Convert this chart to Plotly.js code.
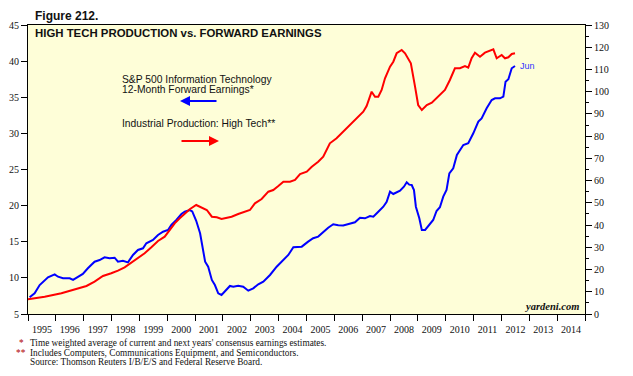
<!DOCTYPE html>
<html><head><meta charset="utf-8">
<script src="https://cdn.plot.ly/plotly-3.0.1.min.js"></script>
<style>html,body{margin:0;padding:0;background:#fff}#chart{width:633px;height:376px}</style>
</head><body><div id="chart"></div>
<script>
// S&P 500 Information Technology 12-Month Forward Earnings (left axis), decimal years
const earnYears = [1995.06,1995.24,1995.42,1995.54,1995.72,1995.96,1996.08,1996.26,1996.50,1996.62,1996.80,1996.97,1997.15,1997.39,1997.57,1997.75,1997.93,1998.11,1998.23,1998.41,1998.59,1998.77,1998.95,1999.13,1999.25,1999.49,1999.67,1999.85,2000.03,2000.15,2000.33,2000.51,2000.63,2000.81,2000.90,2001.04,2001.18,2001.30,2001.36,2001.47,2001.60,2001.71,2001.83,2001.95,2002.07,2002.25,2002.37,2002.55,2002.73,2002.91,2003.09,2003.27,2003.45,2003.69,2003.93,2004.17,2004.35,2004.53,2004.71,2004.83,2005.06,2005.24,2005.42,2005.60,2005.78,2005.96,2006.14,2006.32,2006.50,2006.74,2006.92,2007.10,2007.28,2007.40,2007.58,2007.76,2007.88,2008.00,2008.12,2008.36,2008.50,2008.60,2008.69,2008.78,2008.86,2008.93,2009.05,2009.14,2009.26,2009.38,2009.55,2009.67,2009.79,2009.91,2010.03,2010.13,2010.27,2010.40,2010.63,2010.81,2010.99,2011.17,2011.29,2011.47,2011.65,2011.77,2011.95,2012.07,2012.15,2012.25,2012.37,2012.49];
const earnValues = [7.31,7.87,9.01,9.47,10.08,10.49,10.16,9.94,9.94,9.71,10.16,10.54,11.33,12.24,12.47,12.85,12.71,12.79,12.24,12.38,12.15,13.17,13.86,14.09,14.79,15.24,15.93,16.39,16.63,17.32,18.01,18.84,19.16,19.39,19.2,17.9,16.17,13.40,12.24,11.55,9.71,9.01,7.87,7.63,8.09,8.88,8.78,8.92,8.78,8.23,8.56,9.11,9.47,10.40,11.55,12.47,13.17,14.23,14.23,14.32,15.01,15.48,15.71,16.39,16.94,17.42,17.28,17.25,17.45,17.7,18.33,18.24,18.56,18.47,19.16,19.85,20.54,21.93,21.61,22.07,22.62,23.23,22.90,22.85,22.16,19.85,18.24,16.63,16.63,17.18,18.01,19.26,19.77,21.24,22.16,24.47,25.17,27.01,28.39,28.63,30.01,31.62,32.08,33.47,34.62,34.85,34.85,35.08,37.15,37.49,39.01,39.32];

// Industrial Production: High Tech (right axis), decimal years
const prodYears = [1995.00,1995.60,1996.20,1996.55,1996.80,1997.10,1997.39,1997.69,1997.99,1998.23,1998.47,1998.71,1998.95,1999.19,1999.43,1999.67,1999.91,2000.09,2000.27,2000.45,2000.63,2000.81,2001.04,2001.24,2001.42,2001.60,2001.78,2001.95,2002.13,2002.31,2002.55,2002.79,2002.97,2003.15,2003.39,2003.63,2003.81,2003.99,2004.17,2004.41,2004.59,2004.77,2005.01,2005.19,2005.42,2005.60,2005.84,2006.08,2006.32,2006.56,2006.80,2007.04,2007.16,2007.34,2007.46,2007.58,2007.70,2007.82,2008.00,2008.12,2008.24,2008.42,2008.54,2008.66,2008.75,2008.90,2009.01,2009.14,2009.32,2009.50,2009.73,2009.97,2010.15,2010.33,2010.51,2010.69,2010.81,2010.93,2011.05,2011.23,2011.41,2011.59,2011.71,2011.83,2012.01,2012.13,2012.25,2012.37,2012.49];
const prodValues = [6.61,7.78,9.31,10.48,11.56,12.60,14.53,17.09,18.31,19.48,21.01,23.08,25.06,27.31,30.00,32.84,34.77,37.79,40.80,43.05,45.30,47.10,49.03,48.0,46.78,43.77,43.50,42.74,43.32,43.77,44.98,46.02,46.78,49.80,51.73,55.02,55.78,57.58,59.51,59.51,60.28,62.98,64.01,66.26,68.51,70.76,76.79,79.04,82.01,85.02,88.03,91.00,93.57,100.0,97.75,97.75,100.77,106.03,111.25,113.50,117.28,118.76,117.28,114.26,112.78,102.25,94.02,91.77,94.02,95.05,97.75,100.77,105.26,110.53,110.53,111.56,110.80,115.03,117.55,115.75,117.55,118.31,119.07,115.03,116.51,115.03,115.48,116.96,117.28];

const leftTicks = [5,10,15,20,25,30,35,40,45];
const rightTicks = [0,10,20,30,40,50,60,70,80,90,100,110,120,130];

function toDate(y){
  const yr = Math.floor(y), frac = y - yr;
  const ms = Date.UTC(yr,0,1) + frac*365.25*86400000;
  return new Date(ms).toISOString().slice(0,10);
}

const serif = 'Liberation Serif, Times New Roman, serif';
const sans = 'Liberation Sans, Arial, sans-serif';

const L = 28, R = 585, T = 25, B = 314;
const px = x => (x - L)/(R - L);
const py = y => (B - y)/(B - T);

const traces = [
  {x: earnYears.map(toDate), y: earnValues, type:'scatter', mode:'lines',
   line:{color:'#0000FF', width:2}, yaxis:'y', hoverinfo:'skip'},
  {x: prodYears.map(toDate), y: prodValues, type:'scatter', mode:'lines',
   line:{color:'#FF0000', width:2}, yaxis:'y2', hoverinfo:'skip'}
];

const ann = [];
function txt(text, x, y, opts){
  ann.push(Object.assign({text, xref:'paper', yref:'paper', x:px(x), y:py(y),
    xanchor:'left', yanchor:'middle', showarrow:false,
    font:{family:sans, size:10.3, color:'#111'}}, opts||{}));
}
const fn = {family:serif, size:9.3, color:'#111'};
txt('<b>Figure 212.</b>', 33, 15.5, {font:{family:sans, size:12, color:'#111'}});
txt('S&amp;P 500 Information Technology', 120, 79);
txt('12-Month Forward Earnings*', 120, 89.5);
txt('Industrial Production: High Tech**', 120, 123);
txt('<b><i>yardeni.com</i></b>', 581, 306.5, {xanchor:'right', font:{family:serif, size:10.5, color:'#111'}});
txt('*', 17, 343, {font:{family:serif, size:9.3, color:'#b00000'}});
txt('**', 14, 352.5, {font:{family:serif, size:9.3, color:'#b00000'}});
txt("Time weighted average of current and next years' consensus earnings estimates.", 28, 343, {font:fn});
txt('Includes Computers, Communications Equipment, and Semiconductors.', 28, 352.5, {font:fn});
txt('Source: Thomson Reuters I/B/E/S and Federal Reserve Board.', 28, 362, {font:fn});
// arrows
ann.push({xref:'paper', yref:'paper', x:px(180), y:py(101), ax:38, ay:0, text:'', showarrow:true,
  arrowhead:2, arrowsize:1, arrowwidth:2, arrowcolor:'#0000FF'});
ann.push({xref:'paper', yref:'paper', x:px(219), y:py(141), ax:-39, ay:0, text:'', showarrow:true,
  arrowhead:2, arrowsize:1, arrowwidth:2, arrowcolor:'#FF0000'});
// Jun label at last earnings point
ann.push({xref:'x', yref:'y', x:toDate(earnYears[earnYears.length-1]), y:earnValues[earnValues.length-1],
  text:'Jun', showarrow:false, xanchor:'left', yanchor:'middle', xshift:3,
  font:{family:sans, size:9, color:'#3333FF'}});

const layout = {
  width:633, height:376,
  margin:{l:L, r:633-R, t:T, b:376-B, pad:0},
  paper_bgcolor:'#FFFFFF', plot_bgcolor:'#FEFED8',
  showlegend:false,
  title:{text:'<b>HIGH TECH PRODUCTION vs. FORWARD EARNINGS</b>', xref:'container', yref:'container',
    x:35/633, xanchor:'left', y:1-33.5/376, yanchor:'middle',
    font:{family:sans, size:11.4, color:'#111'}},
  xaxis:{type:'date', range:['1995-01-01','2015-01-01'], tick0:'1995-01-01', dtick:'M12',
    tickformat:'%Y', ticklabelmode:'period', ticks:'outside', ticklen:6, tickcolor:'#000',
    showline:true, linecolor:'#000', linewidth:1, mirror:true, showgrid:false, zeroline:false,
    tickfont:{family:serif, size:10, color:'#111'}},
  yaxis:{range:[5,45], tickvals:leftTicks, ticks:'outside', ticklen:6, tickcolor:'#000',
    showline:true, linecolor:'#000', linewidth:1, showgrid:false, zeroline:false,
    tickfont:{family:serif, size:10, color:'#111'}},
  yaxis2:{range:[0,130], tickvals:rightTicks, overlaying:'y', side:'right', ticks:'outside', ticklen:6,
    tickcolor:'#000', showline:true, linecolor:'#000', linewidth:1, showgrid:false, zeroline:false,
    minor:{dtick:5, tick0:0, ticks:'outside', ticklen:3, tickcolor:'#000', showgrid:false},
    tickfont:{family:serif, size:10, color:'#111'}},
  annotations: ann
};

Plotly.newPlot('chart', traces, layout, {displayModeBar:false, staticPlot:true});
</script></body></html>
